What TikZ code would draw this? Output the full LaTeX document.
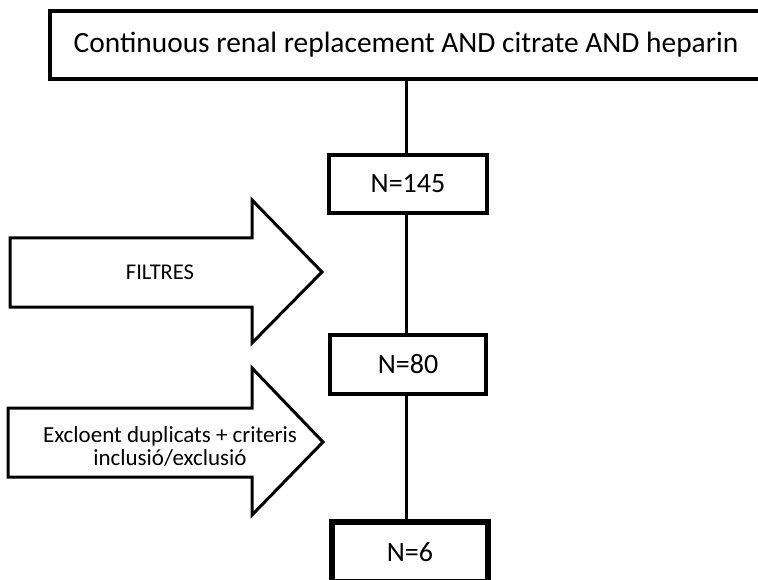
\documentclass[tikz,border=0pt]{standalone}
\usepackage{fontspec}
\setmainfont{Carlito}
\begin{document}
\begin{tikzpicture}[x=1pt,y=-1pt,
  box/.style={draw=black, line width=4pt, fill=white, inner sep=0pt, outer sep=0pt,
    font=\fontsize{28}{32}\selectfont},
  link/.style={line width=3pt},
  bigarrow/.style={draw=black, line width=3pt, line join=miter, fill=white},
  arrowtext/.style={align=center, font=\fontsize{22.5}{23.5}\selectfont}]
  \useasboundingbox (0,0) rectangle (758,580);
  \fill[white] (0,0) rectangle (758,580);
  \begin{scope}
  \clip (0,0) rectangle (758,580);

  % search string (its frame runs on past the right edge)
  \node[inner sep=0pt, outer sep=0pt, minimum width=720pt, minimum height=68pt,
    font=\fontsize{29.4}{34}\selectfont]
    (query) at (410,45) {\hspace*{-8pt}Continuous renal replacement AND citrate AND heparin};
  \draw[line width=4pt] (query.north east) -- (query.north west)
    -- (query.south west) -- (query.south east);

  % counts after each step
  \node[box, minimum width=158pt, minimum height=58pt] (n145) at (408,184) {N=145};
  \node[box, minimum width=156pt, minimum height=59pt] (n80) at (408,364.5) {N=80};
  \node[box, line width=6pt, minimum width=156pt, minimum height=60pt] (n6) at (410,552) {N=6};

  % vertical connectors
  \coordinate (spine) at (406,0);
  \draw[link] (spine |- query.south) -- (spine |- n145.north);
  \draw[link] (spine |- n145.south) -- (spine |- n80.north);
  \draw[link] (spine |- n80.south) -- (spine |- n6.north);

  % block arrows for the screening steps
  \draw[bigarrow] (10,238) -- (252,238) -- (252,200) -- (322,272) -- (252,343)
    -- (252,307) -- (10,307) -- cycle;
  \node[arrowtext] (filtres) at (160,272) {FILTRES};

  \draw[bigarrow] (8,408) -- (252,408) -- (252,368) -- (323,442) -- (252,515)
    -- (252,477) -- (8,477) -- cycle;
  \node[arrowtext, font=\fontsize{23}{23.5}\selectfont] (criteris) at (170,446.5)
    {Excloent duplicats + criteris\\inclusió/exclusió};
  \end{scope}
\end{tikzpicture}
\end{document}
